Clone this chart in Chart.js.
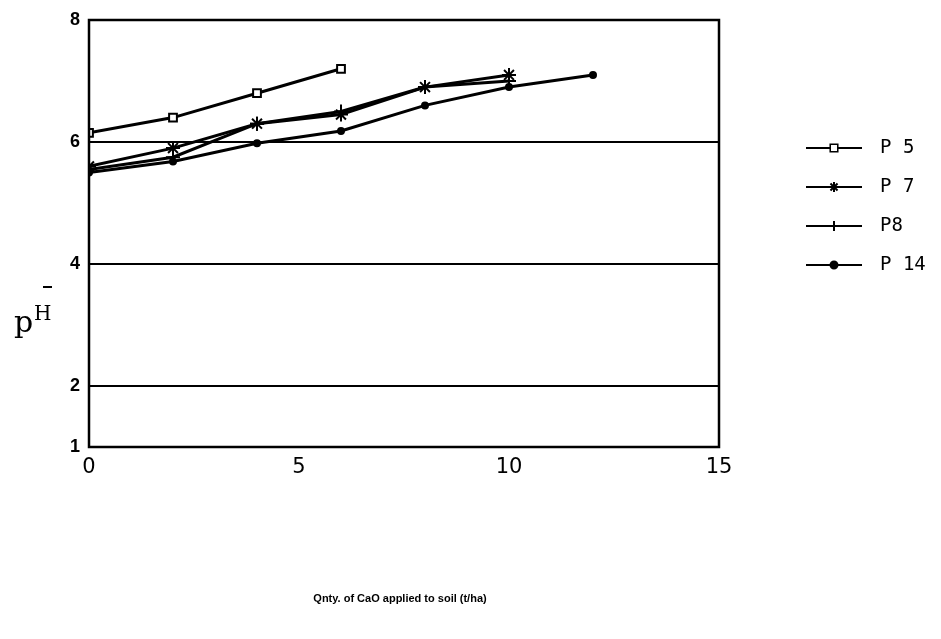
<!DOCTYPE html>
<html>
<head>
<meta charset="utf-8">
<script src="https://cdn.jsdelivr.net/npm/chart.js@4"></script>
<style>
  html, body { margin: 0; padding: 0; background: #fff; }
  #wrap { width: 941px; height: 639px; }
</style>
</head>
<body>
<div id="wrap"><canvas id="phChart" width="941" height="639"></canvas></div>
<script>
// lime dose (t/ha) and soil pH readings per plot
const doses = [0, 2, 4, 6, 8, 10, 12];
const seriesNames = ['P 5', 'P 7', 'P8', 'P 14'];
const p5 = [6.15, 6.4, 6.8, 7.2];
const p7 = [5.6, 5.9, 6.3, 6.45, 6.9, 7.1];
const p8 = [5.55, 5.75, 6.3, 6.5, 6.9, 7.0];
const p14 = [5.5, 5.68, 5.98, 6.18, 6.6, 6.9, 7.1];
const yTicks = [1, 2, 4, 6, 8];
const xTicks = [0, 5, 10, 15];
const xTitle = 'Qnty. of CaO applied to soil (t/ha)';

function toPoints(vals) {
    return vals.map((v, i) => ({ x: doses[i], y: v }));
}

const styles = [
    { pointStyle: 'rect', radius: 5.5, bg: '#fff' },
    { pointStyle: 'star', radius: 7, bg: '#000' },
    { pointStyle: 'cross', radius: 7, bg: '#000' },
    { pointStyle: 'circle', radius: 3, bg: '#000' }
];

const datasets = [p5, p7, p8, p14].map((vals, i) => ({
    label: seriesNames[i],
    data: toPoints(vals),
    borderColor: '#000',
    borderWidth: 3,
    pointStyle: styles[i].pointStyle,
    pointRadius: styles[i].radius,
    pointBackgroundColor: styles[i].bg,
    pointBorderColor: '#000',
    pointBorderWidth: 2,
    tension: 0
}));

// frame, axis titles and the hand-drawn style legend
const extras = {
    id: 'extras',
    afterDraw(chart) {
        const ctx = chart.ctx;
        const a = chart.chartArea;
        ctx.save();
        ctx.strokeStyle = '#000';
        ctx.lineWidth = 2.5;
        ctx.strokeRect(a.left, a.top, a.right - a.left, a.bottom - a.top);

        // y title: p with superscript H and a bar above
        ctx.fillStyle = '#000';
        ctx.font = '30px "DejaVu Serif"';
        ctx.textBaseline = 'alphabetic';
        ctx.textAlign = 'left';
        ctx.fillText('p', 14, 332);
        ctx.font = '20px "DejaVu Serif"';
        ctx.fillText('H', 34, 320);
        ctx.lineWidth = 2;
        ctx.beginPath();
        ctx.moveTo(43, 287);
        ctx.lineTo(52, 287);
        ctx.stroke();

        // x title
        ctx.font = 'bold 11px "Liberation Sans"';
        ctx.textAlign = 'center';
        ctx.fillText(xTitle, 400, 602);

        // legend
        ctx.textAlign = 'left';
        ctx.textBaseline = 'middle';
        ctx.font = '19px "DejaVu Sans Mono"';
        chart.data.datasets.forEach((ds, i) => {
            const y = 148 + i * 39;
            ctx.lineWidth = 2;
            ctx.beginPath();
            ctx.moveTo(806, y);
            ctx.lineTo(862, y);
            ctx.stroke();
            Chart.helpers.drawPoint(ctx, {
                pointStyle: ds.pointStyle,
                radius: ds.pointStyle === 'circle' ? 3.5 : 5,
                borderWidth: 1.8
            }, 834, y);
            if (ds.pointStyle === 'rect') {
                ctx.fillStyle = '#fff';
                ctx.fillRect(831, y - 3, 6, 6);
                ctx.fillStyle = '#000';
            }
            ctx.fillText(ds.label, 880, y);
        });
        ctx.restore();
    }
};

new Chart(document.getElementById('phChart'), {
    type: 'line',
    data: { datasets: datasets },
    options: {
        responsive: false,
        animation: false,
        layout: { padding: { left: 0, right: 222, top: 20, bottom: 0 } },
        plugins: {
            legend: { display: false },
            tooltip: { enabled: false }
        },
        scales: {
            x: {
                type: 'linear',
                min: 0,
                max: 15,
                afterBuildTicks: s => { s.ticks = xTicks.map(v => ({ value: v })); },
                afterFit: s => { s.height = 192; },
                grid: { display: false },
                border: { display: false },
                ticks: {
                    color: '#000',
                    font: { family: 'DejaVu Sans', size: 21 },
                    padding: 0
                }
            },
            y: {
                min: 1,
                max: 8,
                afterBuildTicks: s => { s.ticks = yTicks.map(v => ({ value: v })); },
                afterFit: s => { s.width = 89; },
                grid: {
                    color: ctx => (ctx.tick && (ctx.tick.value === 1 || ctx.tick.value === 8)) ? 'rgba(0,0,0,0)' : '#000',
                    lineWidth: 2,
                    drawTicks: false
                },
                border: { display: false },
                ticks: {
                    color: '#000',
                    font: { family: 'Liberation Sans', size: 18, weight: 'bold' },
                    padding: 9
                }
            }
        }
    },
    plugins: [extras]
});
</script>
</body>
</html>
